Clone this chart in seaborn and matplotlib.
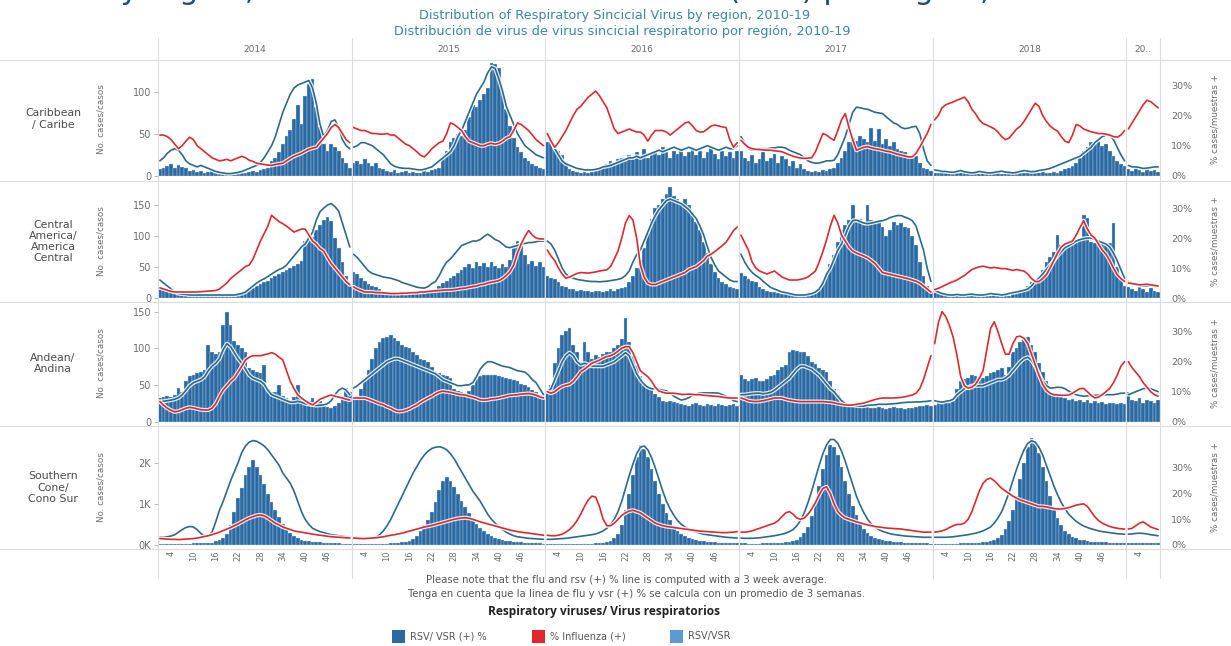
import numpy as np
import pandas as pd
import matplotlib
matplotlib.use("Agg")
import matplotlib.pyplot as plt
import matplotlib.patheffects as pe
from matplotlib.lines import Line2D
from matplotlib.patches import Rectangle
from matplotlib.ticker import FuncFormatter
import seaborn as sns

# ---------------------------------------------------------------- data
YEARS = ["2014", "2015", "2016", "2017", "2018", "20.."]
WEEKS_PER_YEAR = [52, 52, 52, 52, 52, 9]
WEEK_TICKS = [4, 10, 16, 22, 28, 34, 40, 46]

REGION_LABELS = [
    "Caribbean\n/ Caribe",
    "Central\nAmerica/\nAmerica\nCentral",
    "Andean/\nAndina",
    "Southern\nCone/\nCono Sur",
]

# Caribbean: weekly RSV cases, RSV % positive, influenza % positive
CAR_CASES = [
    8, 10, 12, 14, 10, 13, 11, 9, 6, 7, 5, 6, 4, 5, 6, 4, 3, 5, 4, 3, 4, 5, 3, 4, 5, 6, 5, 7, 8, 10,
    18, 22, 28, 38, 48, 55, 68, 84, 62, 95, 110, 115, 82, 58, 38, 30, 38, 35, 30, 22, 15, 10,  # 2014
    15, 18, 14, 20, 16, 12, 15, 10, 8, 6, 5, 7, 4, 5, 6, 4, 5, 3, 4, 6, 5, 7, 8, 10,
    22, 30, 40, 45, 50, 48, 55, 70, 85, 82, 90, 98, 105, 135, 133, 128,
    100, 80, 60, 45, 35, 28, 22, 18, 14, 12, 10, 8,  # 2015
    40, 45, 35, 30, 25, 15, 8, 6, 5, 4, 5, 4, 5, 6, 8, 10, 14, 18, 15, 20,
    22, 18, 25, 20, 28, 24, 32, 22, 26, 30, 25, 35, 28, 22, 30, 26, 33, 24, 28, 35,
    25, 30, 22, 28, 34, 26, 20, 30, 24, 28, 22, 30,  # 2016
    30, 22, 18, 25, 15, 20, 28, 18, 22, 26, 15, 24, 20, 12, 18, 10, 14, 8, 6, 5,
    6, 5, 7, 6, 8, 10, 15, 22, 30, 40, 45, 42, 48, 44, 40, 57, 42, 56, 38, 44,
    36, 40, 32, 30, 28, 25, 22, 24, 15, 10, 8, 6,  # 2017
    4, 3, 5, 4, 3, 2, 4, 3, 5, 4, 3, 4, 2, 3, 5, 4, 3, 4, 2, 3,
    4, 5, 3, 4, 3, 5, 4, 3, 4, 5, 3, 4, 5, 4,
    6, 8, 10, 12, 15, 22, 30, 35, 40, 38, 42, 36, 38, 30, 24, 18, 14, 12,  # 2018
    8, 6, 9, 7, 5, 8, 6, 7, 5,  # 2019
]
CAR_RSV_PCT = [
    5, 6, 7.5, 8.5, 9, 8.5, 7, 5, 4, 3.5, 3, 3.5, 3, 2.5, 2, 1.5, 1.2, 1, 0.8, 0.8,
    1, 1.2, 1.5, 2, 2.5, 3, 3.5, 4.5, 6, 8, 10, 13, 17, 21, 24, 27, 29, 30, 30.5, 31,
    31.5, 29, 24, 17, 13, 15, 18, 18.5, 16, 12, 10, 9,  # 2014
    9.5, 10, 11, 11, 10.5, 10, 9, 8, 7, 5.5, 4, 3.2, 2.8, 2.6, 2.5, 2.5, 2.3, 2.1, 2, 2.2,
    2.6, 3, 4, 5, 6, 7, 8, 10, 13, 15, 18, 21, 24, 27, 29, 31, 34, 36, 35.5, 32,
    28, 23, 20, 17, 14, 12, 10, 9, 8, 7, 6.5, 6,  # 2015
    14, 12, 9, 7, 5, 4, 3.5, 3, 2.5, 2.3, 2, 2, 2, 2.2, 2.5, 3, 3.2, 3.5, 4, 4.5,
    5, 5.5, 6, 6, 6.5, 6, 6.5, 7, 7.5, 8, 8.5, 8, 8.5, 9, 9.5, 9, 8.5, 9, 9.5, 9,
    8.5, 9, 9.5, 10, 9.5, 9, 8.5, 9, 9.5, 9, 9, 10,  # 2016
    13, 11, 9, 8.5, 8.7, 9, 9, 9, 9.2, 9.3, 9.5, 9.5, 9.2, 8.5, 8, 7.5, 7, 6, 5, 4.5,
    4.2, 4.3, 4.6, 5, 5, 5.2, 7, 10, 13, 17, 21, 22.7, 22.5, 22.2, 22, 21.5, 21, 20.8, 20.6, 19.5,
    18.5, 17.5, 17, 16, 15.6, 15.8, 16.2, 16.4, 14, 9, 5, 3.5,  # 2017
    2, 1.8, 1.5, 1.5, 1.3, 1.2, 1.5, 1.8, 1.4, 1.2, 1, 1.2, 1.5, 1.3, 1.1, 1, 1.2, 1.4, 1.6, 1.3,
    1.2, 1, 1.2, 1.5, 1.8, 1.6, 1.4, 1.5, 1.8, 2, 2.2, 2.5, 3, 3.5, 4, 4.5, 5, 5.5, 6, 6.5,
    7.5, 8.5, 9.5, 11, 12, 13, 13.5, 13.5, 12, 9.5, 7, 5,  # 2018
    3.5, 3, 3, 2.8, 2.5, 2.6, 2.8, 3, 3,  # 2019
]
CAR_FLU_PCT = [
    13.5, 13.5, 13, 12, 10.5, 9, 10, 11.5, 12.8, 12, 10, 9, 8, 7, 6, 5.5, 5, 5.2, 5.5, 5,
    5.5, 6, 6.5, 6, 5.2, 4.8, 4.2, 4, 3.8, 3.6, 3.5, 3.8, 4, 4.2, 5, 5.8, 6.5, 7, 7.5, 8.2,
    8.8, 9.2, 9.5, 11, 12.5, 14, 16, 17, 16, 14, 12, 11,  # 2014
    16, 15.5, 15, 15, 14.5, 14, 14, 13.8, 13.8, 14, 13.5, 13.5, 12.5, 11.5, 10.5, 10, 9, 8, 6.8, 6.3,
    7.5, 9, 10, 11, 11.5, 14, 17.5, 17, 16, 15, 13, 11.5, 11, 10.5, 10, 10, 10.5, 10.8, 10.5, 10.8,
    11.5, 12.5, 13, 15, 17.5, 17, 16, 15, 13.5, 12, 11, 10,  # 2015
    14, 11.5, 9.5, 11, 13, 15, 17.5, 20, 22, 23, 24.5, 26, 27, 28, 26.5, 24.5, 22.5, 19, 15.5, 14,
    14.5, 15, 15.5, 15, 14.5, 14.5, 13.5, 11.5, 13.5, 15, 15, 15, 14.5, 13.5, 14.5, 15.5, 16.5, 17.5, 17.8, 16.5,
    15, 14.5, 14.6, 15.5, 16.5, 16.8, 16.5, 16.2, 16, 12, 9.5, 11,  # 2016
    11.8, 10.5, 9.5, 9, 8.8, 8.7, 8.6, 8.5, 8.5, 8.3, 8.2, 8, 7.5, 7, 6.5, 6.2, 5.9, 5.8, 5.9, 6,
    8, 11, 14, 13.5, 12.5, 11.8, 15, 18.5, 20.6, 16, 12, 8.5, 9, 9.5, 9.7, 9.3, 9, 8.8, 8.5, 8.2,
    8, 7.6, 7.2, 6.9, 6.6, 6.3, 6.3, 7.5, 9.5, 11.8, 14, 17,  # 2017
    18.5, 20, 22.5, 23.5, 24, 24.4, 25, 25.5, 26, 24.5, 22, 20.5, 18.5, 17.3, 16.8, 16.2, 15.6, 14.5, 13, 12,
    12.5, 14, 15.5, 16.4, 18, 20, 22, 24, 23, 20, 18, 16.5, 15.5, 14.8, 13, 11.5, 11, 13.5, 17, 16.5,
    15.5, 15, 14.6, 14.3, 14, 14, 13.8, 13.5, 13, 12.8, 13.5, 15,  # 2018
    15.5, 17.5, 19.5, 21.5, 23.5, 25, 24.5, 23.5, 22.5,  # 2019
]

# Central America
CA_CASES = [
    15, 14, 12, 10, 9, 8, 7, 6, 5, 5, 6, 5, 4, 5, 4, 5, 4, 5, 4, 6,
    7, 8, 10, 12, 14, 16, 19, 22, 25, 28, 32, 36, 38, 42, 45, 48, 52, 55, 60, 92,
    100, 98, 110, 118, 126, 130, 124, 97, 80, 58, 35, 20,  # 2014
    42, 38, 32, 28, 22, 20, 18, 15, 10, 8, 7, 6, 5, 6, 5, 7, 6, 8, 7, 9,
    10, 12, 15, 20, 24, 28, 32, 35, 40, 45, 50, 55, 48, 58, 52, 56, 50, 58, 52, 48,
    55, 50, 62, 85, 92, 88, 70, 55, 60, 52, 58, 50,  # 2015
    36, 33, 30, 25, 20, 18, 15, 14, 12, 13, 11, 12, 10, 11, 12, 10, 12, 14, 12, 15,
    16, 18, 25, 35, 48, 62, 80, 105, 128, 145, 150, 160, 168, 178, 165, 160, 152, 160, 150, 138,
    122, 110, 90, 72, 55, 42, 32, 25, 22, 18, 16, 15,  # 2016
    40, 35, 30, 28, 25, 18, 14, 12, 10, 9, 8, 7, 6, 7, 6, 5, 6, 5, 7, 8,
    10, 15, 25, 40, 55, 70, 90, 110, 118, 125, 150, 122, 128, 118, 150, 125, 120, 122, 115, 100,
    110, 122, 118, 120, 115, 112, 100, 85, 58, 35, 20, 12,  # 2017
    10, 8, 6, 5, 4, 5, 4, 3, 4, 3, 5, 4, 3, 4, 3, 4, 5, 4, 3, 5,
    4, 6, 8, 10, 12, 20, 25, 30, 32, 45, 58, 66, 74, 101, 85, 88, 84, 90, 88, 95,
    134, 129, 90, 88, 85, 90, 86, 88, 121, 50, 30, 20,  # 2018
    18, 15, 12, 20, 14, 10, 16, 12, 10,  # 2019
]
CA_RSV_PCT = [
    6, 5, 4, 3, 2, 1.5, 1.3, 1.2, 1, 1, 1, 1, 1, 1, 1, 1, 1, 1, 1, 1,
    1, 1.2, 1.5, 2, 3, 4, 5, 5.8, 6.4, 7.2, 8, 8.8, 9.5, 10, 11, 12.5, 14, 15.5, 17, 18,
    20, 22, 26, 28.8, 30, 31, 31.5, 30.5, 29, 25, 21, 17,  # 2014
    14.6, 13.5, 12, 10.5, 9, 8.2, 7.8, 7.4, 7, 6.8, 6.6, 6.2, 5.8, 5.2, 4.8, 4.4, 4, 3.6, 3.4, 3.3,
    3.8, 4.8, 5.5, 7.5, 10, 12, 13, 14.5, 16, 17.5, 18, 18.5, 19, 19, 19.5, 20.5, 21.3, 20.5, 19.5, 19,
    18, 17, 16.8, 17.2, 17.5, 18, 18.2, 18.5, 18.5, 18.8, 19, 19,  # 2015
    19, 18, 16, 13, 10, 8, 7, 6.6, 6.2, 6, 5.8, 5.6, 5.5, 5.5, 5.4, 5.5, 5.6, 5.8, 6, 6.2,
    6.6, 7.5, 9, 12, 14.5, 16, 19, 22, 25, 27.5, 29.5, 31, 32.5, 33, 32.5, 32, 31.5, 30.5, 29.5, 28,
    26.5, 24, 21, 17, 13.5, 11, 9, 8, 7, 6, 5.5, 5.5,  # 2016
    14.6, 12, 10, 8.5, 7.5, 6.7, 5.5, 4.5, 3.5, 3, 2.5, 2, 1.8, 1.5, 1.2, 1, 1, 1, 1.2, 1.5,
    2, 3, 5, 8, 10, 13, 16, 18, 21, 24, 25.8, 26, 25.5, 25, 24.8, 25, 25.3, 25.6, 25.8, 26.2,
    26.8, 27.2, 27.5, 27.5, 27, 26.5, 25.8, 24, 20, 16, 10, 5.5,  # 2017
    2.5, 2, 1.5, 1.2, 1, 1, 1.2, 1, 1, 1.2, 1.3, 1.1, 1, 1, 1.2, 1.5, 1.3, 1.2, 1, 1.2,
    1.5, 1.8, 2, 2.3, 2.6, 3, 4, 5.5, 6.6, 8, 9.5, 11, 12.5, 14, 15.5, 16.8, 17.5, 18.2, 19, 19.5,
    19.8, 20, 20, 19.5, 19, 18.5, 18, 17, 15, 12.5, 9.5, 6.6,  # 2018
    5.5, 5, 4.5, 4.2, 4, 4, 4.2, 4, 3.8,  # 2019
]
CA_FLU_PCT = [
    3.4, 3, 2.6, 2.2, 2, 2, 2, 2, 2, 2, 2, 2.1, 2.2, 2.3, 2.4, 2.5, 3, 4, 5, 6.5,
    7.5, 8.5, 9.5, 10.5, 11, 13, 16, 19, 21.5, 24, 27.6, 26.5, 25.5, 24.8, 24, 23, 22, 22.5, 23, 23,
    21, 19, 18, 16.5, 15.7, 13.5, 11.5, 10, 8.5, 7, 5.5, 4.4,  # 2014
    3.7, 3, 2.5, 2, 2, 2, 1.8, 1.8, 1.7, 1.6, 1.5, 1.5, 1.5, 1.6, 1.6, 1.7, 1.8, 1.8, 2, 2,
    2.2, 2.3, 2.4, 2.5, 2.6, 2.7, 2.7, 2.8, 3, 3.2, 3.3, 3.6, 3.8, 4, 4.4, 4.6, 5, 5.3, 5.5, 5.8,
    6.5, 7.5, 8.8, 11, 15, 18, 20.5, 22.5, 21, 20, 19.7, 19.7,  # 2015
    16, 14, 12.5, 10, 8, 6.6, 7, 7.6, 8.2, 8.5, 8.4, 8.3, 8.5, 8.7, 9, 9.2, 9.4, 10.5, 13, 15.7,
    20, 25, 27.5, 26, 20, 11, 7, 5, 4.5, 4.5, 5, 5.5, 6, 6.5, 7, 7.5, 8, 8.5, 9.5, 10,
    10.5, 11.5, 12.5, 14, 14.6, 15.5, 16.5, 17.5, 18.6, 20.5, 22.5, 23.7,  # 2016
    21, 18.5, 16, 12, 10, 9, 8.5, 8, 8.5, 9, 8, 7, 6.5, 6, 6, 6, 6.2, 6.5, 7, 8,
    9, 12, 15.5, 19.5, 24, 27.6, 25, 21, 19, 17, 15.7, 15, 14.5, 14, 13.4, 12.5, 11.5, 10, 8.5, 8.2,
    7.9, 7.6, 7.3, 7, 6.7, 6.4, 6, 5.6, 5, 4, 3, 2,  # 2017
    2.8, 3.2, 3.8, 4.4, 5, 5.5, 6, 6.8, 7.5, 8.5, 9.5, 10, 10.4, 10.6, 10.3, 10, 10.2, 10, 9.8, 9.8,
    9.5, 9.2, 9.5, 9.2, 9, 8, 6.5, 5.5, 5.5, 6.5, 7.8, 10, 12.5, 15, 17, 18, 18.5, 19, 21, 23.5,
    25.8, 23, 21, 20, 18, 16, 14.6, 12.5, 10, 7.8, 6.5, 5.5,  # 2018
    5, 4.8, 4.6, 4.4, 4.5, 4.6, 4.4, 4.2, 4,  # 2019
]

# Andean
AND_CASES = [
    32, 33, 35, 34, 36, 46, 40, 55, 62, 64, 66, 68, 70, 105, 95, 92, 95, 132, 150, 132,
    110, 105, 100, 95, 73, 70, 68, 66, 77, 45, 41, 40, 50, 35, 32, 30, 33, 50, 34, 30,
    28, 32, 25, 28, 22, 20, 18, 22, 25, 35, 46, 40,  # 2014
    32, 35, 45, 55, 70, 85, 100, 108, 114, 116, 118, 114, 110, 105, 102, 100, 95, 91, 86, 84,
    82, 75, 68, 66, 64, 62, 59, 45, 42, 40, 38, 42, 50, 58, 62, 64, 64, 63, 64, 62,
    61, 60, 58, 57, 55, 52, 50, 47, 43, 40, 36, 32,  # 2015
    40, 50, 80, 100, 118, 123, 127, 105, 95, 82, 109, 95, 86, 91, 88, 92, 95, 95, 100, 105,
    112, 141, 109, 90, 77, 62, 50, 47, 45, 38, 34, 28, 27, 28, 27, 25, 24, 23, 22, 24,
    25, 23, 22, 24, 23, 22, 24, 23, 22, 23, 24, 22,  # 2016
    64, 58, 55, 58, 59, 56, 55, 58, 62, 64, 70, 74, 77, 95, 98, 96, 95, 95, 90, 82,
    78, 73, 70, 68, 55, 45, 36, 30, 25, 23, 22, 21, 20, 22, 20, 19, 18, 20, 19, 17,
    18, 20, 19, 18, 17, 18, 19, 20, 22, 21, 23, 22,  # 2017
    23, 25, 24, 27, 25, 28, 45, 55, 58, 60, 64, 62, 60, 59, 62, 66, 68, 70, 73, 64,
    75, 95, 100, 109, 112, 116, 105, 95, 80, 68, 55, 41, 38, 36, 34, 32, 30, 31, 28, 30,
    27, 29, 26, 28, 25, 27, 24, 26, 25, 24, 26, 24,  # 2018
    41, 30, 28, 32, 25, 30, 28, 26, 30,  # 2019
]
AND_RSV_PCT = [
    6.7, 6.8, 7, 7.2, 7.5, 8, 9, 10.5, 12, 13, 13.5, 14, 15, 17, 18.5, 19.5, 21, 24, 26, 25,
    23, 21, 19.5, 17.5, 15.5, 14.5, 14, 13.5, 12.5, 10.5, 9, 8.5, 8, 7.5, 7, 6.5, 6.5, 6.8, 6.5, 6,
    5.8, 5.6, 5.4, 5.5, 5.6, 6, 7, 9, 10.5, 11.2, 10.5, 9,  # 2014
    11.2, 12, 13, 14, 15, 16, 17, 18, 19, 20, 20.5, 21, 21, 20.5, 20, 19.5, 19, 18.5, 18, 17.5,
    17, 16.5, 16, 15, 14, 13.5, 13, 12.5, 12, 12, 12.2, 12.3, 13, 15, 17.5, 19, 20, 20, 19.5, 19,
    18.5, 18.3, 18, 17.5, 17, 16.8, 16.5, 15.5, 14, 13, 11, 9,  # 2015
    10, 11, 14, 17, 20, 22, 23, 22, 20, 19, 19.5, 19, 18.5, 18.5, 18.5, 18.5, 19, 19.5, 20, 21,
    22, 23, 22, 19, 16, 14, 12.5, 11.5, 11, 11, 10.8, 10.5, 10.3, 9.5, 8.5, 7.8, 7.2, 7.5, 8, 8.8,
    9.2, 9.6, 9.6, 9.6, 9.6, 9.6, 9.5, 9, 8.5, 8, 7, 6.7,  # 2016
    9, 9, 9.2, 9.4, 9.5, 9.5, 9.3, 9.5, 9.8, 10.5, 11.5, 12.5, 13.5, 14.5, 16, 17.5, 18.5, 18.5, 18, 17.5,
    16.5, 15.5, 14, 12.5, 11, 10, 8.5, 7, 6, 5.6, 5.5, 5.3, 5.2, 5.2, 5.5, 5.5, 5.6, 5.8, 5.8, 5.8,
    5.9, 6, 6.1, 6.3, 6.4, 6.5, 6.5, 6.6, 6.6, 6.7, 6.8, 7,  # 2017
    7, 6.7, 6.5, 6.8, 7, 7.5, 9, 10, 11, 11.5, 12, 12, 12, 12, 12.5, 13, 13.5, 14, 14, 14.5,
    15.5, 17, 18.5, 20, 21, 21.5, 20.5, 18.5, 16, 13.5, 12, 11.2, 11.3, 11.5, 11.4, 11, 10.2, 9.5, 9, 8.7,
    8.5, 8.6, 8.7, 8.8, 8.9, 9, 9, 9, 9, 9.2, 9.5, 9.5,  # 2018
    9, 9.5, 10, 10.5, 11, 11.2, 11, 10.5, 10,  # 2019
]
AND_FLU_PCT = [
    6.7, 5.5, 4.5, 3.8, 3.3, 3.5, 4, 4.5, 4.8, 4.6, 4.3, 4, 3.9, 3.9, 4.5, 6, 8.5, 10.6, 12, 13.5,
    14.6, 16.5, 18.5, 20.6, 21.5, 22, 22, 22, 22.3, 22.6, 23, 22.5, 21.5, 20.6, 17, 13.5, 11, 9, 7.9, 7,
    6.2, 5.6, 6.5, 7.5, 8, 8.5, 8.9, 8.5, 8.2, 7.9, 7.5, 7.2,  # 2014
    7.9, 7.9, 7.9, 7.9, 7.5, 7, 6.5, 6, 5.6, 5, 4.5, 3.8, 3.4, 3.5, 3.8, 4.3, 5, 5.6, 6.5, 7.2,
    7.9, 8.5, 9.3, 9.9, 10.2, 10, 9.8, 9.5, 9.2, 9, 8.9, 8.5, 8.2, 7.8, 7.3, 7.2, 7.3, 7.6, 7.7, 7.9,
    8.2, 8.5, 8.8, 8.9, 9, 9.2, 9.3, 9.4, 9.2, 8.8, 8.3, 7.9,  # 2015
    10, 9.5, 10, 11, 11.8, 12.2, 12.5, 13.5, 15, 16.7, 17.5, 18.5, 19.5, 20, 20.5, 21.2, 21.7, 22, 22.6, 23.5,
    24.5, 25, 25, 23, 20, 17, 16, 15, 13.5, 11.5, 10.2, 9.8, 9.5, 9.5, 9.5, 9.3, 9.1, 9.1, 9.2, 9.1,
    9, 9, 8.8, 8.7, 8.6, 8.5, 8.4, 8.2, 8, 7.9, 7.9, 7.9,  # 2016
    7.9, 7.5, 7, 6.8, 6.7, 6.8, 7, 7.3, 7.6, 7.9, 7.9, 7.9, 7.5, 7.2, 7, 6.8, 6.7, 6.7, 6.7, 6.7,
    6.7, 6.7, 6.7, 6.6, 6.5, 6.3, 6, 5.8, 5.6, 5.5, 5.6, 5.8, 6, 6.2, 6.6, 7, 7.4, 7.7, 7.9, 7.9,
    7.9, 7.9, 8, 8.1, 8.3, 8.6, 8.9, 9.5, 11, 14, 18, 22,  # 2017
    26, 33, 36.7, 35, 32, 28, 22, 15, 12, 11.2, 11.5, 12.5, 14.5, 17, 24, 31, 33.3, 30, 26, 22.5,
    22.5, 26, 28.3, 28.5, 27.8, 26, 22.5, 19, 15.5, 12.5, 10.5, 9.5, 9, 8.9, 8.8, 8.8, 8.9, 9.5, 10.3, 11,
    11.1, 10, 8.8, 7.9, 8.2, 9, 10, 11.1, 13, 15.5, 18.5, 20,  # 2018
    20, 18, 16.5, 15, 13, 11.5, 10, 9, 8.5,  # 2019
]

# Southern Cone
SC_CASES = [
    20, 22, 25, 20, 18, 20, 25, 30, 35, 40, 45, 50, 55, 58, 60, 90, 130, 180, 260, 480,
    800, 1150, 1400, 1700, 1900, 2070, 1900, 1700, 1500, 1250, 1050, 850, 680, 520, 400, 300, 220, 170, 130, 100,
    90, 80, 70, 65, 60, 55, 50, 45, 40, 35, 30, 28,  # 2014
    30, 28, 25, 24, 22, 24, 26, 28, 30, 35, 40, 45, 55, 65, 80, 100, 150, 230, 350, 480,
    620, 800, 1050, 1350, 1550, 1650, 1560, 1420, 1250, 1080, 920, 780, 640, 520, 420, 340, 270, 220, 180, 150,
    125, 105, 90, 80, 70, 62, 55, 50, 45, 40, 38, 35,  # 2015
    35, 32, 30, 28, 26, 25, 24, 25, 26, 28, 30, 32, 35, 40, 45, 55, 70, 100, 160, 280,
    500, 850, 1250, 1700, 2150, 2450, 2350, 2150, 1850, 1550, 1250, 1000, 780, 600, 460, 350, 270, 210, 170, 140,
    120, 100, 90, 80, 72, 65, 60, 55, 50, 45, 42, 40,  # 2016
    40, 38, 36, 35, 35, 36, 38, 40, 42, 45, 50, 55, 62, 75, 95, 130, 190, 290, 450, 700,
    1050, 1450, 1850, 2200, 2450, 2400, 2200, 1900, 1550, 1250, 950, 720, 540, 400, 300, 230, 180, 145, 120, 100,
    88, 78, 70, 64, 58, 54, 50, 46, 43, 40, 38, 36,  # 2017
    35, 34, 33, 33, 34, 35, 36, 38, 40, 43, 46, 50, 55, 62, 72, 90, 120, 170, 250, 380,
    580, 850, 1200, 1600, 2000, 2400, 2600, 2500, 2250, 1900, 1550, 1200, 900, 660, 480, 350, 260, 200, 160, 130,
    110, 95, 85, 78, 72, 66, 62, 58, 55, 52, 50, 48,  # 2018
    46, 44, 45, 42, 40, 42, 44, 40, 38,  # 2019
]
SC_RSV_PCT = [
    3, 3, 3.2, 3.5, 4, 5, 6, 6.8, 7.2, 7, 6, 4.5, 3.5, 3.5, 5, 9, 13.5, 17, 21, 25,
    28.5, 32, 36, 38.5, 40, 40.6, 40.3, 39.5, 38.5, 37, 35, 33, 31, 28, 26, 24, 21, 17, 13, 10,
    8, 6.5, 5.8, 5.2, 4.8, 4.4, 4, 3.8, 3.6, 3.4, 3.2, 3,  # 2014
    3, 2.8, 2.6, 2.5, 2.5, 2.6, 3, 4, 5.5, 7.5, 10, 13, 16, 19, 22, 25, 28, 30.5, 33, 35,
    36.5, 37.5, 38, 38.2, 37.8, 37, 35.5, 33.5, 31, 28.5, 26, 23.5, 21, 19, 17, 14.5, 12, 10, 8.5, 7,
    6, 5, 4.2, 3.6, 3.2, 3, 2.8, 2.6, 2.5, 2.4, 2.3, 2.2,  # 2015
    2.2, 2.2, 2.3, 2.4, 2.5, 2.6, 2.8, 3, 3.2, 3.4, 3.6, 3.8, 4, 4.3, 4.8, 5.5, 6.5, 8, 10, 13,
    17, 22, 27, 31.5, 35.5, 38, 38.5, 37, 34, 30, 25.5, 21, 17, 14, 11.5, 9.5, 8, 7, 6.2, 5.5,
    5, 4.6, 4.2, 4, 3.8, 3.6, 3.4, 3.2, 3, 2.9, 2.8, 2.7,  # 2016
    2.7, 2.6, 2.6, 2.6, 2.7, 2.8, 3, 3.2, 3.4, 3.6, 3.9, 4.2, 4.6, 5.2, 6, 7.5, 9.5, 12.5, 16.5, 21,
    26, 31, 35.5, 39, 41, 41, 39.5, 36.5, 32.5, 28, 23.5, 19, 15.5, 12.5, 10, 8.2, 7, 6, 5.3, 4.8,
    4.4, 4.1, 3.9, 3.7, 3.5, 3.4, 3.3, 3.2, 3.1, 3, 3, 3,  # 2017
    3, 3, 3, 3, 3.1, 3.2, 3.4, 3.6, 3.8, 4, 4.3, 4.6, 5, 5.5, 6.2, 7, 8.5, 10.5, 13, 16.5,
    20.5, 25, 29.5, 33.5, 37, 39.5, 40.5, 40, 38, 35, 31, 27, 23, 19.5, 16.5, 14, 12, 10.5, 9.2, 8.2,
    7.4, 6.8, 6.3, 5.9, 5.5, 5.2, 5, 4.8, 4.6, 4.4, 4.3, 4.2,  # 2018
    4.2, 4.3, 4.5, 4.6, 4.5, 4.3, 4, 3.8, 3.6,  # 2019
]
SC_FLU_PCT = [
    2.5, 2.4, 2.3, 2.2, 2.2, 2.1, 2.2, 2.3, 2.4, 2.5, 2.7, 3, 3.3, 3.6, 4, 4.5, 5, 5.6, 6.2, 6.8,
    7.5, 8.2, 9, 9.8, 10.5, 11, 11.5, 11.7, 11.3, 10.5, 9.5, 8.5, 7.8, 7, 6.5, 6, 5.5, 5.2, 5, 4.7,
    4.5, 4.2, 4, 3.8, 3.6, 3.4, 3.2, 3.1, 3, 2.9, 2.8, 2.7,  # 2014
    2.7, 2.6, 2.5, 2.5, 2.6, 2.7, 2.8, 3, 3.2, 3.5, 3.8, 4, 4.3, 4.6, 5, 5.4, 5.8, 6.2, 6.6, 7,
    7.3, 7.6, 8, 8.4, 8.8, 9.2, 9.6, 10, 10.3, 10.5, 10.6, 10.4, 10, 9.5, 9, 8.6, 8.2, 7.8, 7.4, 7,
    6.6, 6.2, 5.8, 5.5, 5.2, 5, 4.8, 4.6, 4.4, 4.2, 4, 3.8,  # 2015
    3.8, 3.6, 3.6, 3.8, 4.2, 5, 6, 7.5, 9.5, 12, 15, 17.5, 19, 18.6, 15, 10, 7.5, 7.5, 8.5, 10,
    11.5, 12.5, 13.2, 13.5, 13, 12.5, 11.5, 10.5, 9.5, 8.5, 8, 7.5, 7.2, 7, 6.8, 6.6, 6.4, 6.2, 6, 5.8,
    5.6, 5.4, 5.3, 5.2, 5.1, 5, 4.9, 4.8, 4.8, 4.9, 5, 5.2,  # 2016
    5, 5, 5.2, 5.5, 6, 6.5, 7, 7.5, 8, 8.5, 9.5, 11, 12.5, 13, 12, 10.5, 10, 10.5, 12, 14,
    16.5, 19.5, 22, 22.6, 20, 16, 13, 11.5, 10.5, 10, 9.5, 9, 8.6, 8.2, 7.8, 7.5, 7.2, 7, 6.8, 6.6,
    6.5, 6.4, 6.3, 6.2, 6, 5.8, 5.6, 5.4, 5.2, 5, 5, 5,  # 2017
    5, 5.2, 5.5, 6, 6.8, 7.5, 8, 8, 8.5, 10, 13, 17, 21, 24, 25.5, 26, 25, 23.5, 22, 21,
    20, 19, 18.2, 17.5, 17, 16.5, 16, 15.5, 15, 15, 14.8, 14.5, 14.2, 14, 14, 14.2, 14.5, 15, 15.5, 15.8,
    16, 15, 13, 11, 9.5, 8.5, 7.8, 7.2, 6.8, 6.5, 6.3, 6.2,  # 2018
    6.2, 6.5, 7.5, 8.5, 9, 8, 7, 6.5, 6,  # 2019
]

SERIES = {
    "CAR": (CAR_CASES, CAR_RSV_PCT, CAR_FLU_PCT),
    "CA": (CA_CASES, CA_RSV_PCT, CA_FLU_PCT),
    "AND": (AND_CASES, AND_RSV_PCT, AND_FLU_PCT),
    "SC": (SC_CASES, SC_RSV_PCT, SC_FLU_PCT),
}
N_WEEKS = sum(WEEKS_PER_YEAR)
for key, arrays in SERIES.items():
    for arr in arrays:
        if len(arr) != N_WEEKS:
            raise ValueError(f"{key}: expected {N_WEEKS} weeks, got {len(arr)}")

# ---------------------------------------------------------------- style
W, H = 1231, 646
BAR_BLUE = "#2a69a3"
RSV_LINE = "#2c6a8c"
FLU_RED = "#d92b2f"
LIGHT_BLUE = "#5b9bd5"
GRID = "#dcdcdc"
TXT = "#6b6b6b"

sns.set_theme(style="white")
plt.rcParams["font.family"] = ["DejaVu Sans"]

fig = plt.figure(figsize=(W / 100, H / 100), dpi=100)

PLOT_L, PLOT_R = 158, 1160
# (key, top px, bottom px, left max, right max %, left ticks, thousands format)
PANELS = [
    ("CAR", 62, 176, 135.7, 37.6, [0, 50, 100], False),
    ("CA", 185, 298, 182, 37.7, [0, 50, 100, 150], False),
    ("AND", 305, 421.7, 159, 38.9, [0, 50, 100, 150], False),
    ("SC", 430, 545, 2805, 44.7, [0, 1000, 2000], True),
]

year_of_week = np.repeat(np.arange(len(WEEKS_PER_YEAR)), WEEKS_PER_YEAR)
year_start = np.concatenate([[0], np.cumsum(WEEKS_PER_YEAR)[:-1]])
week_idx = np.arange(N_WEEKS)


def fx(px):
    return px / W


def fy(py):
    return 1 - py / H


halo = [pe.Stroke(linewidth=3.0, foreground="white", alpha=0.85), pe.Normal()]

axes = []
for i, (key, top, bot, lmax, rmax, lticks, thousands) in enumerate(PANELS):
    cases, rsv, flu = SERIES[key]
    df = pd.DataFrame({
        "idx": week_idx,
        "year": year_of_week,
        "cases": cases,
        "rsv": rsv,
        "flu": flu,
    })
    ax = fig.add_axes([fx(PLOT_L), fy(bot), (PLOT_R - PLOT_L) / W, (bot - top) / H])
    sns.barplot(data=df, x="idx", y="cases", ax=ax, native_scale=True, color=BAR_BLUE,
                saturation=1, width=1.0, errorbar=None, edgecolor="#cfe0ee", linewidth=0.25)
    ax2 = ax.twinx()
    sns.lineplot(data=df, x="idx", y="rsv", units="year", estimator=None, ax=ax2,
                 color=RSV_LINE, linewidth=1.2, path_effects=halo, legend=False)
    sns.lineplot(data=df, x="idx", y="flu", units="year", estimator=None, ax=ax2,
                 color=FLU_RED, linewidth=1.2, path_effects=halo, legend=False)

    for a in (ax, ax2):
        a.set_xlim(-0.5, N_WEEKS - 0.5)
        for s in a.spines.values():
            s.set_visible(False)
        a.set_xlabel("")
    ax.set_ylim(0, lmax)
    ax2.set_ylim(0, rmax)

    ax.set_yticks(lticks)
    if thousands:
        ax.yaxis.set_major_formatter(FuncFormatter(lambda v, _: f"{v / 1000:.0f}K"))
    else:
        ax.yaxis.set_major_formatter(FuncFormatter(lambda v, _: f"{v:.0f}"))
    ax.tick_params(axis="y", length=3, width=0.6, color="#aaaaaa", labelsize=7,
                   labelcolor=TXT, pad=2, left=True)
    ax2.set_yticks([0, 10, 20, 30])
    ax2.yaxis.set_major_formatter(FuncFormatter(lambda v, _: f"{v:.0f}%"))
    ax2.tick_params(axis="y", length=0, labelsize=6.8, labelcolor=TXT, pad=8)

    ax.set_ylabel("No. cases/casos", fontsize=6.3, color=TXT)
    ax.yaxis.set_label_coords(-53 / (PLOT_R - PLOT_L), 0.5)
    ax2.set_ylabel("% cases/muestras +", fontsize=6.3, color=TXT, rotation=90)
    ax2.yaxis.set_label_coords(1 + 50 / (PLOT_R - PLOT_L), 0.5)

    ax.grid(False)
    ax2.grid(False)
    ax.set_xticks([])
    ax2.set_xticks([])
    axes.append(ax)

    # region name on the left
    fig.text(fx(53), fy((top + bot) / 2), REGION_LABELS[i], ha="center", va="center",
             fontsize=7.8, color="#4a4a4a", linespacing=1.15)

# week ticks under the last panel
tick_pos, tick_lab = [], []
for s, n in zip(year_start, WEEKS_PER_YEAR):
    for wk in WEEK_TICKS:
        if wk <= n:
            tick_pos.append(s + wk - 1)
            tick_lab.append(str(wk))
axes[-1].set_xticks(tick_pos)
axes[-1].set_xticklabels(tick_lab, rotation=90, fontsize=6, color=TXT)
axes[-1].tick_params(axis="x", length=0, pad=4, bottom=True)

# ---------------------------------------------------------------- frame lines
def hline(py, x0=0, x1=W, color=GRID, lw=0.8):
    fig.add_artist(Line2D([fx(x0), fx(x1)], [fy(py), fy(py)], color=color, lw=lw,
                          transform=fig.transFigure))


def vline(px, y0, y1, color=GRID, lw=0.8):
    fig.add_artist(Line2D([fx(px), fx(px)], [fy(y0), fy(y1)], color=color, lw=lw,
                          transform=fig.transFigure))


week_px = (PLOT_R - PLOT_L) / N_WEEKS
for py in (60, 181, 302, 426, 549):
    hline(py)
vline(PLOT_L, 38, 578)
vline(PLOT_R, 38, 578)
for s in year_start[1:]:
    vline(PLOT_L + s * week_px, 38, 578)

# year header
for label, s, n in zip(YEARS, year_start, WEEKS_PER_YEAR):
    cx = PLOT_L + (s + n / 2) * week_px
    fig.text(fx(cx), fy(49), label, ha="center", va="center", fontsize=6.5, color=TXT)

# ---------------------------------------------------------------- titles
# main heading sits above the top edge; only its lower strokes fall inside the canvas
fig.text(fx(30), fy(5), "RSV by region, Distribución del virus sincicial (VSR) por región, 2010-19",
         ha="left", va="bottom", fontsize=22, color="#1f4e79")
fig.text(fx(615), fy(16), "Distribution of Respiratory Sincicial Virus by region, 2010-19",
         ha="center", va="center", fontsize=9.3, color="#3b86a9")
fig.text(fx(622), fy(32),
         "Distribución de virus de virus sincicial respiratorio por región, 2010-19",
         ha="center", va="center", fontsize=9.3, color="#3b86a9")

# ---------------------------------------------------------------- notes & legend
fig.text(fx(626), fy(580),
         "Please note that the flu and rsv (+) % line is computed with a 3 week average.",
         ha="center", va="center", fontsize=7.3, color="#555555")
fig.text(fx(637), fy(594),
         "Tenga en cuenta que la linea de flu y vsr (+) % se calcula con un promedio de 3 semanas.",
         ha="center", va="center", fontsize=7.3, color="#555555")
fig.text(fx(604), fy(611), "Respiratory viruses/ Virus respiratorios",
         ha="center", va="center", fontsize=8.6, fontweight="bold", color="#222222",
         family=["Open Sans", "DejaVu Sans"])

LEGEND_ITEMS = [("RSV/ VSR (+) %", BAR_BLUE, 392), ("% Influenza (+)", "#e3262b", 532),
                ("RSV/VSR", LIGHT_BLUE, 670)]
for text, color, x0 in LEGEND_ITEMS:
    fig.add_artist(Rectangle((fx(x0), fy(643)), 13 / W, 13 / H, transform=fig.transFigure,
                             facecolor=color, edgecolor="none"))
    fig.text(fx(x0 + 18), fy(636.5), text, ha="left", va="center", fontsize=7, color="#555555")

fig.savefig("out.png", dpi=100)
